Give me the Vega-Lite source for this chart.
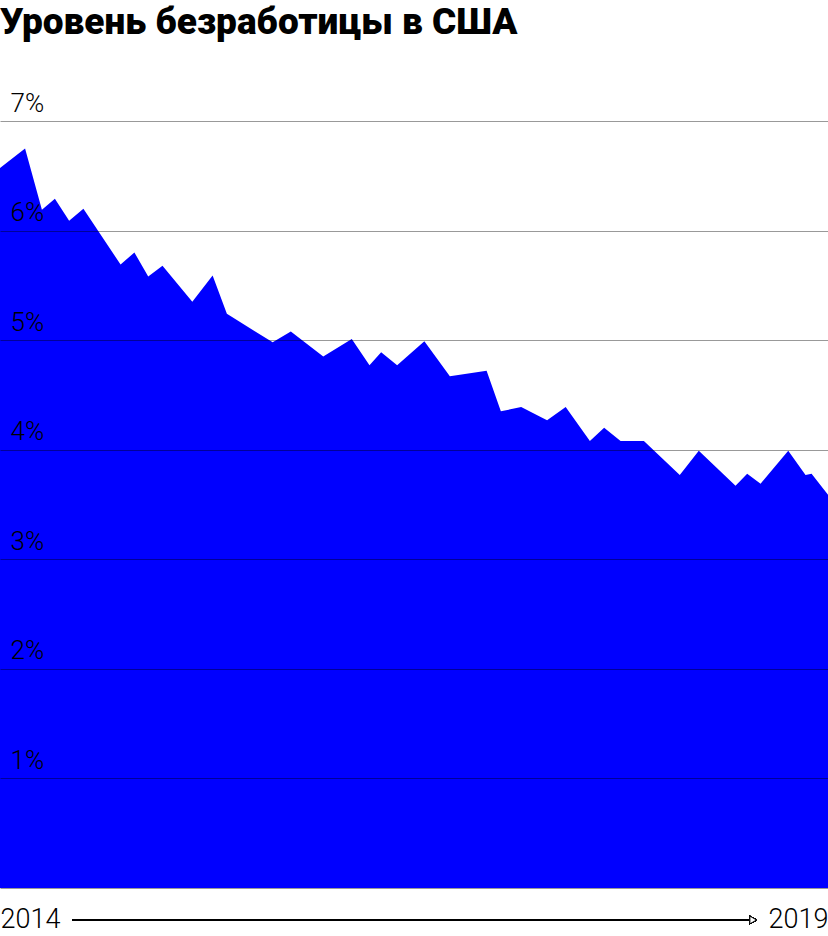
{
  "$schema": "https://vega.github.io/schema/vega-lite/v6.json",
  "width": 828,
  "height": 767,
  "autosize": {"type": "none"},
  "padding": {"top": 121, "left": 0, "right": 0, "bottom": 48},
  "background": "white",
  "title": {
    "text": "Уровень безработицы в США",
    "anchor": "start",
    "frame": "group",
    "font": "Roboto",
    "fontWeight": 900,
    "fontSize": 37,
    "color": "#000000",
    "offset": 48
  },
  "config": {"view": {"stroke": null}},
  "data": {
    "values": [
      {"date": "2014-01-01", "rate": 6.57},
      {"date": "2014-02-28", "rate": 6.75},
      {"date": "2014-04-08", "rate": 6.19},
      {"date": "2014-05-08", "rate": 6.29},
      {"date": "2014-06-10", "rate": 6.09},
      {"date": "2014-07-13", "rate": 6.2},
      {"date": "2014-10-07", "rate": 5.69},
      {"date": "2014-11-08", "rate": 5.8},
      {"date": "2014-12-10", "rate": 5.58},
      {"date": "2015-01-12", "rate": 5.68},
      {"date": "2015-03-22", "rate": 5.35},
      {"date": "2015-05-08", "rate": 5.59},
      {"date": "2015-06-10", "rate": 5.24},
      {"date": "2015-09-24", "rate": 4.98},
      {"date": "2015-11-05", "rate": 5.08},
      {"date": "2016-01-19", "rate": 4.85},
      {"date": "2016-03-25", "rate": 5.01},
      {"date": "2016-05-05", "rate": 4.77},
      {"date": "2016-06-01", "rate": 4.89},
      {"date": "2016-07-08", "rate": 4.77},
      {"date": "2016-09-09", "rate": 4.99},
      {"date": "2016-11-07", "rate": 4.67},
      {"date": "2017-01-31", "rate": 4.72},
      {"date": "2017-03-05", "rate": 4.35},
      {"date": "2017-04-21", "rate": 4.39},
      {"date": "2017-06-04", "rate": 4.3},
      {"date": "2017-06-20", "rate": 4.27},
      {"date": "2017-08-02", "rate": 4.39},
      {"date": "2017-09-27", "rate": 4.08},
      {"date": "2017-10-30", "rate": 4.2},
      {"date": "2017-12-07", "rate": 4.08},
      {"date": "2018-01-30", "rate": 4.08},
      {"date": "2018-04-23", "rate": 3.77},
      {"date": "2018-06-06", "rate": 3.99},
      {"date": "2018-08-30", "rate": 3.67},
      {"date": "2018-09-26", "rate": 3.78},
      {"date": "2018-10-27", "rate": 3.69},
      {"date": "2018-12-30", "rate": 3.99},
      {"date": "2019-02-08", "rate": 3.77},
      {"date": "2019-02-22", "rate": 3.78},
      {"date": "2019-04-01", "rate": 3.59}
    ]
  },
  "encoding": {
    "x": {
      "field": "date",
      "type": "temporal",
      "scale": {
        "type": "utc",
        "domain": [
          {"year": 2014, "month": 1, "date": 1, "utc": true},
          {"year": 2019, "month": 4, "date": 1, "utc": true}
        ],
        "nice": false
      },
      "axis": {
        "title": null,
        "values": [
          {"year": 2014, "month": 1, "date": 1, "utc": true},
          {"year": 2019, "month": 4, "date": 1, "utc": true}
        ],
        "labelExpr": "utcFormat(datum.value, '%Y')",
        "labelFlush": true,
        "labelPadding": 18,
        "labelFont": "Roboto",
        "labelFontWeight": 300,
        "labelFontSize": 27,
        "labelColor": "#000000",
        "domain": false,
        "ticks": false,
        "grid": false
      }
    },
    "y": {
      "field": "rate",
      "type": "quantitative",
      "scale": {"domain": [0, 7], "nice": false, "zero": true},
      "axis": {
        "title": null,
        "values": [0, 1, 2, 3, 4, 5, 6, 7],
        "labelExpr": "datum.value == 0 ? '' : datum.value + '%'",
        "labelAlign": "left",
        "labelBaseline": "alphabetic",
        "labelPadding": -10,
        "labelOffset": -10,
        "tickSize": 0,
        "ticks": false,
        "domain": false,
        "grid": true,
        "gridColor": "#000000",
        "gridOpacity": 0.4,
        "gridWidth": 1.2,
        "labelFont": "Roboto",
        "labelFontWeight": 300,
        "labelFontSize": 26,
        "labelColor": "#000000",
        "zindex": 1
      }
    }
  },
  "layer": [
    {
      "mark": {"type": "area", "color": "#0000ff", "interpolate": "linear"}
    },
    {
      "mark": {"type": "rule", "color": "#000000", "strokeWidth": 1.2},
      "encoding": {
        "x": {"datum": {"year": 2014, "month": 6, "date": 17, "utc": true}, "type": "temporal"},
        "x2": {"datum": {"year": 2018, "month": 10, "date": 3, "utc": true}},
        "y": {"datum": -0.292, "type": "quantitative"}
      }
    },
    {
      "mark": {"type": "point", "shape": "triangle-right", "filled": true, "fill": "#ffffff", "stroke": "#000000", "strokeWidth": 1, "size": 60, "opacity": 1},
      "encoding": {
        "x": {"datum": {"year": 2018, "month": 10, "date": 10, "utc": true}, "type": "temporal"},
        "y": {"datum": -0.292, "type": "quantitative"}
      }
    }
  ]
}
